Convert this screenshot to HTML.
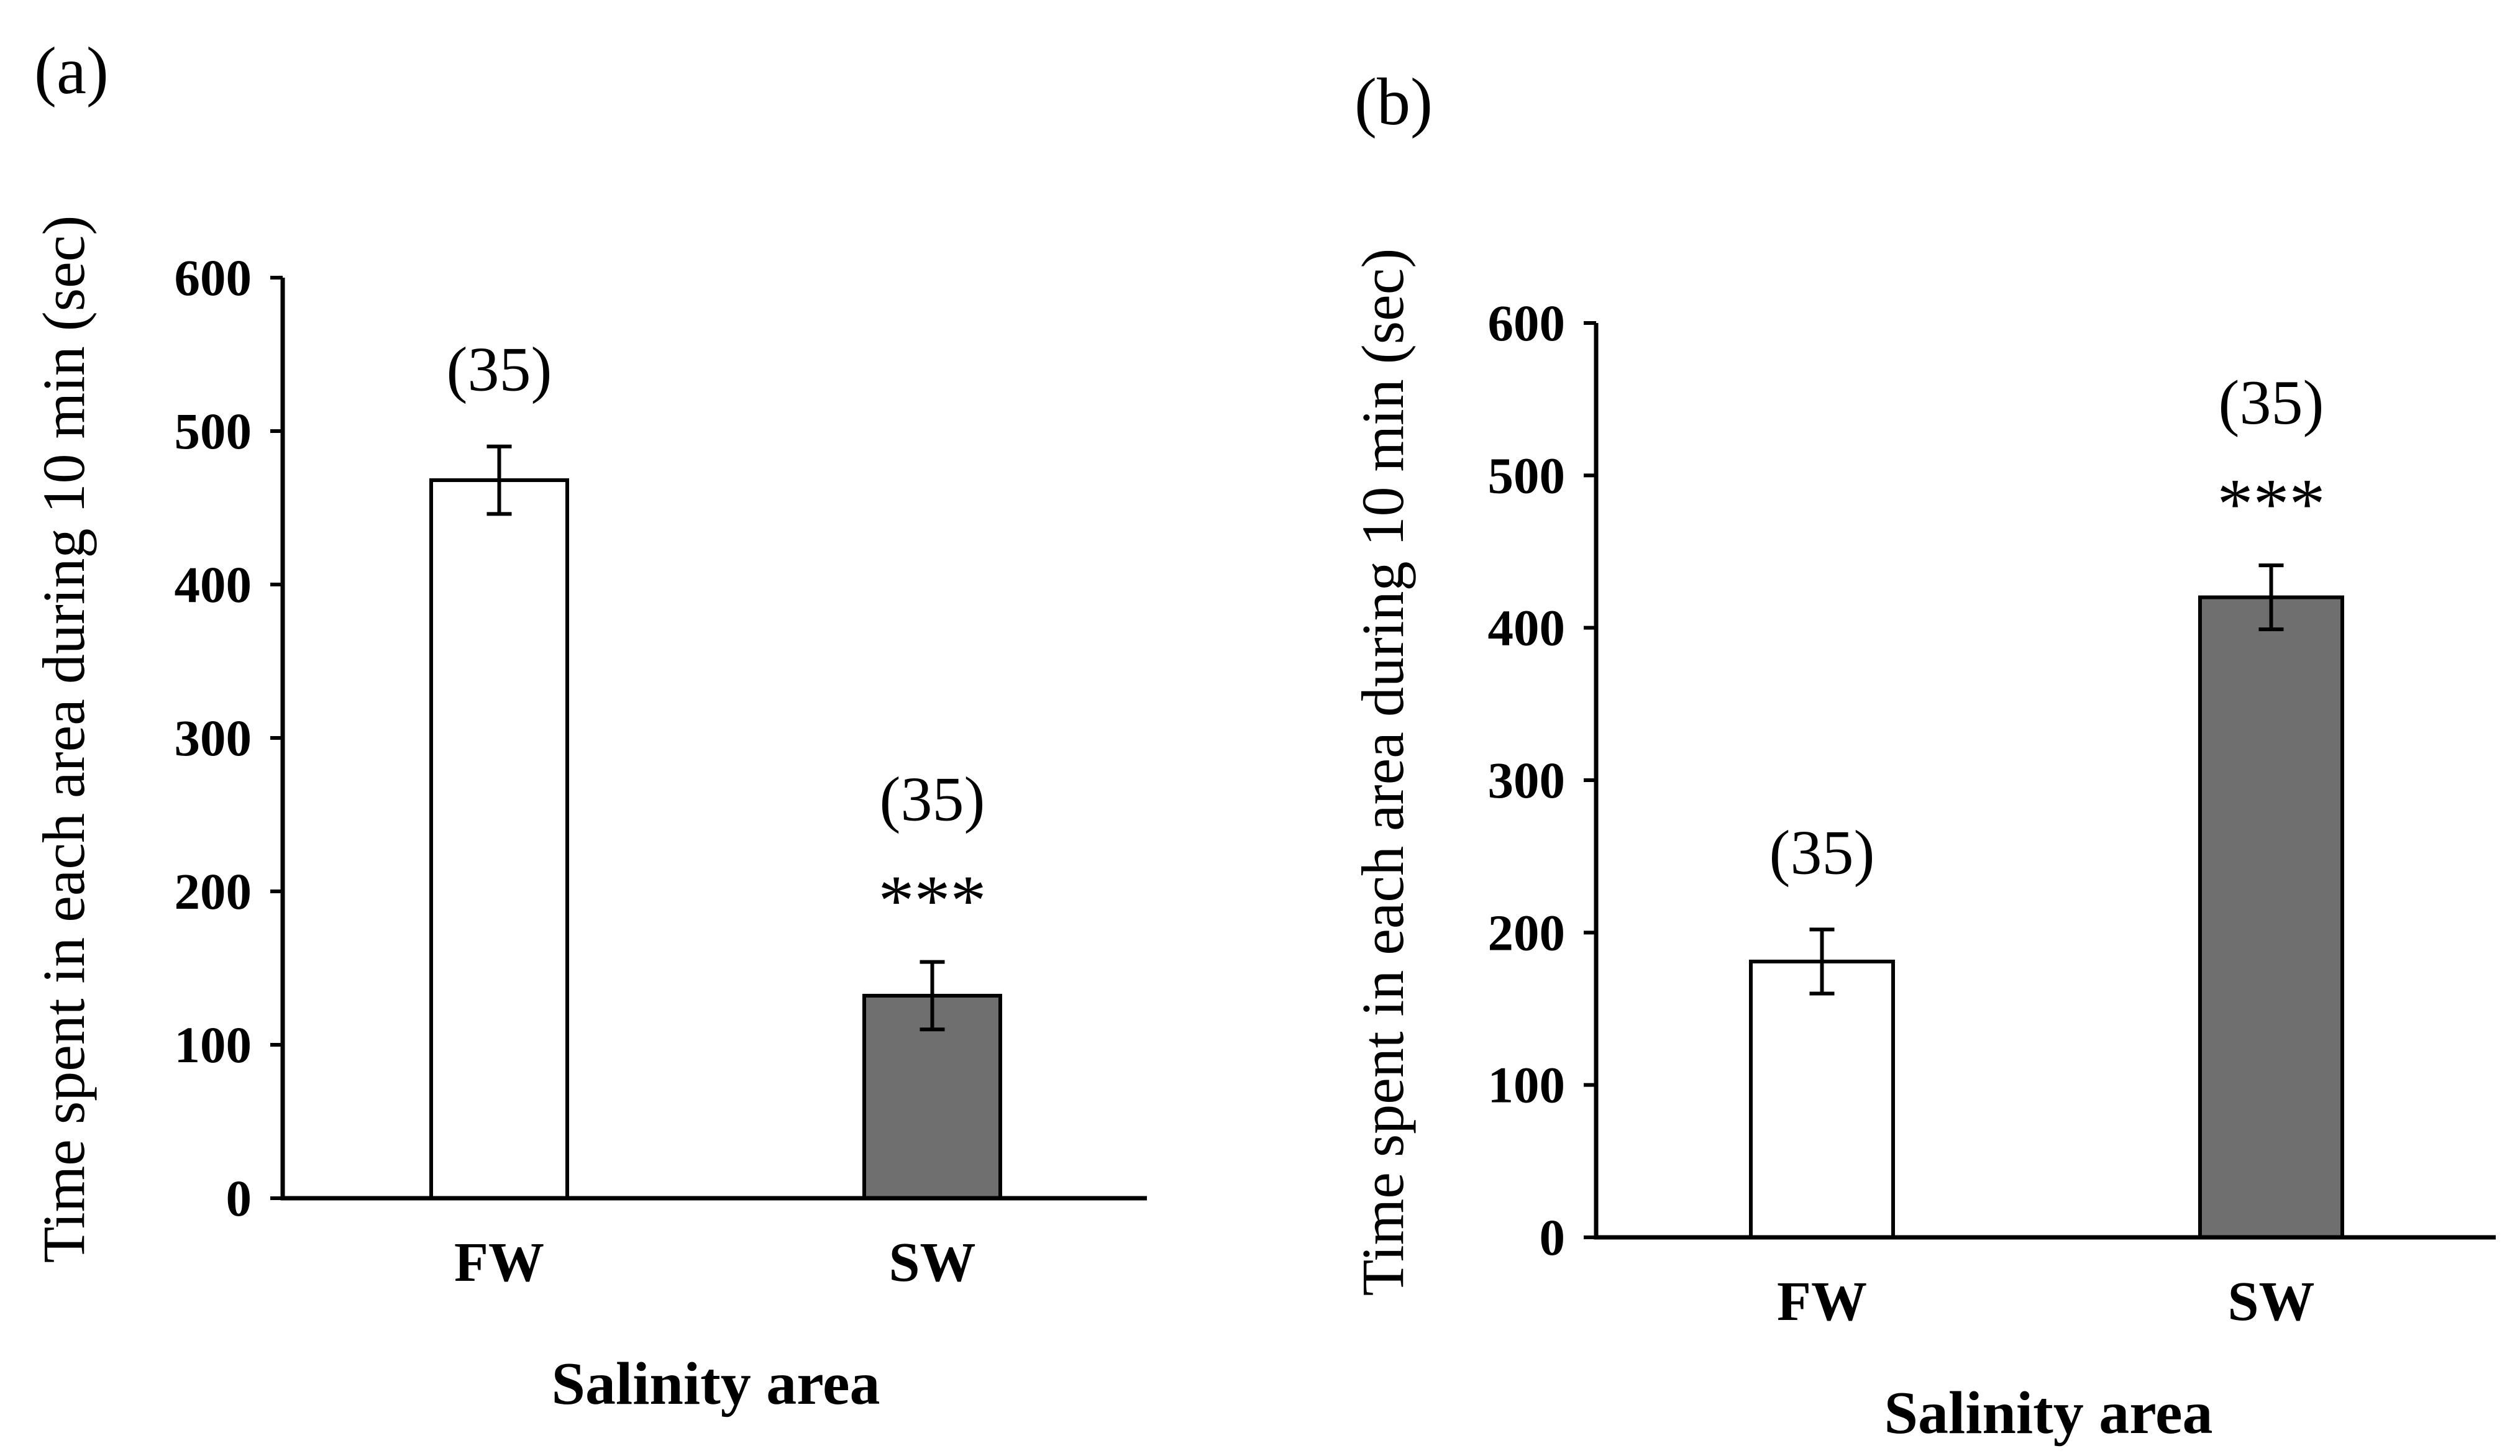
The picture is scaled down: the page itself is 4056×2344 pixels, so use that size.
<!DOCTYPE html>
<html><head><meta charset="utf-8"><style>
html,body{margin:0;padding:0;background:#fff}
svg{display:block}
text{font-family:"Liberation Serif",serif;fill:#000}
.b{font-weight:bold}
</style></head><body>
<svg id="chart" width="4056" height="2344" viewBox="0 0 4056 2344" xmlns="http://www.w3.org/2000/svg"></svg>
<script>
const categories = ["FW", "SW"];
const ticks = [0, 100, 200, 300, 400, 500, 600];
const valuesA = [468, 132];
const errorsA = [22, 22];
const valuesB = [181, 420];
const errorsB = [21, 21];
const nLabels = ["(35)", "(35)"];
const sigA = ["", "***"];
const sigB = ["", "***"];

const NS = "http://www.w3.org/2000/svg";
const svg = document.getElementById("chart");
function el(tag, attrs, parent, txt) {
  const e = document.createElementNS(NS, tag);
  for (const k in attrs) e.setAttribute(k, attrs[k]);
  if (txt !== undefined) e.textContent = txt;
  (parent || svg).appendChild(e);
  return e;
}

function panel(cfg) {
  const g = el("g", {});
  
  
  const y = v => cfg.y0 - (v / 600) * (cfg.y0 - cfg.y600);
  const lbl = el("text", {x: cfg.labX, y: cfg.labY, "font-size": 108}, g, "(" + cfg.id + ")");
  
  
  cfg.values.forEach((v, i) => {
    const bx = cfg.barX[i];
    const r = el("rect", {x: bx, y: y(v), width: cfg.barW, height: cfg.y0 - y(v), fill: i === 0 ? "#fff" : "#6f6f6f", stroke: "#000", "stroke-width": 6}, g);
    
    
    const cx = bx + cfg.barW / 2, e = cfg.errors[i];
    const eb = el("path", {d: `M${cx},${y(v + e)}V${y(v - e)}M${cx - 20},${y(v + e)}H${cx + 20}M${cx - 20},${y(v - e)}H${cx + 20}`, stroke: "#000", "stroke-width": 6, fill: "none"}, g);
    
    
    const hasSig = cfg.sig[i] !== "";
    const top = y(v + e);
    if (hasSig) {
      const s = el("text", {x: cx, y: top - 60, "font-size": 116, "text-anchor": "middle"}, g, cfg.sig[i]);
      
      
    }
    const n = el("text", {x: cx, y: top - (hasSig ? 228 : 90), "font-size": 102, "text-anchor": "middle"}, g, nLabels[i]);
    
    
    const c = el("text", {x: cx, y: cfg.y0 + 133, "font-size": 90, "text-anchor": "middle", "class": "b"}, g, categories[i]);
    
    
  });
  const ax = el("path", {d: `M${cfg.ax},${y(600)}V${cfg.y0}H${cfg.axEnd}`, stroke: "#000", "stroke-width": 7, fill: "none"}, g);
  
  
  ticks.forEach(t => {
    const tk = el("line", {x1: cfg.ax - 20, x2: cfg.ax, y1: y(t), y2: y(t), stroke: "#000", "stroke-width": 6}, g);
    
    
    const tl = el("text", {x: cfg.ax - 50, y: y(t) + 28, "font-size": 83, "text-anchor": "end", "class": "b"}, g, t);
    
    
  });
  const yt = el("text", {x: 0, y: 0, "font-size": 96, "text-anchor": "middle", transform: `translate(${cfg.ytX},${cfg.ytY}) rotate(-90)`}, g, "Time spent in each area during 10 min (sec)");
  
  
  const xt = el("text", {x: cfg.xtX, y: cfg.xtY, "font-size": 98, "text-anchor": "middle", "class": "b"}, g, "Salinity area");
  
  
}

panel({id: "a", values: valuesA, errors: errorsA, sig: sigA, ax: 455, axEnd: 1846, y0: 1929, y600: 447,
  barX: [694, 1391], barW: 219, labX: 55, labY: 150, ytX: 135, ytY: 1190, xtX: 1152, xtY: 2260});
panel({id: "b", values: valuesB, errors: errorsB, sig: sigB, ax: 2569, axEnd: 4017, y0: 1992, y600: 520,
  barX: [2818, 3541], barW: 229, labX: 2180, labY: 200, ytX: 2258, ytY: 1243, xtX: 3297, xtY: 2307});
</script>
</body></html>
